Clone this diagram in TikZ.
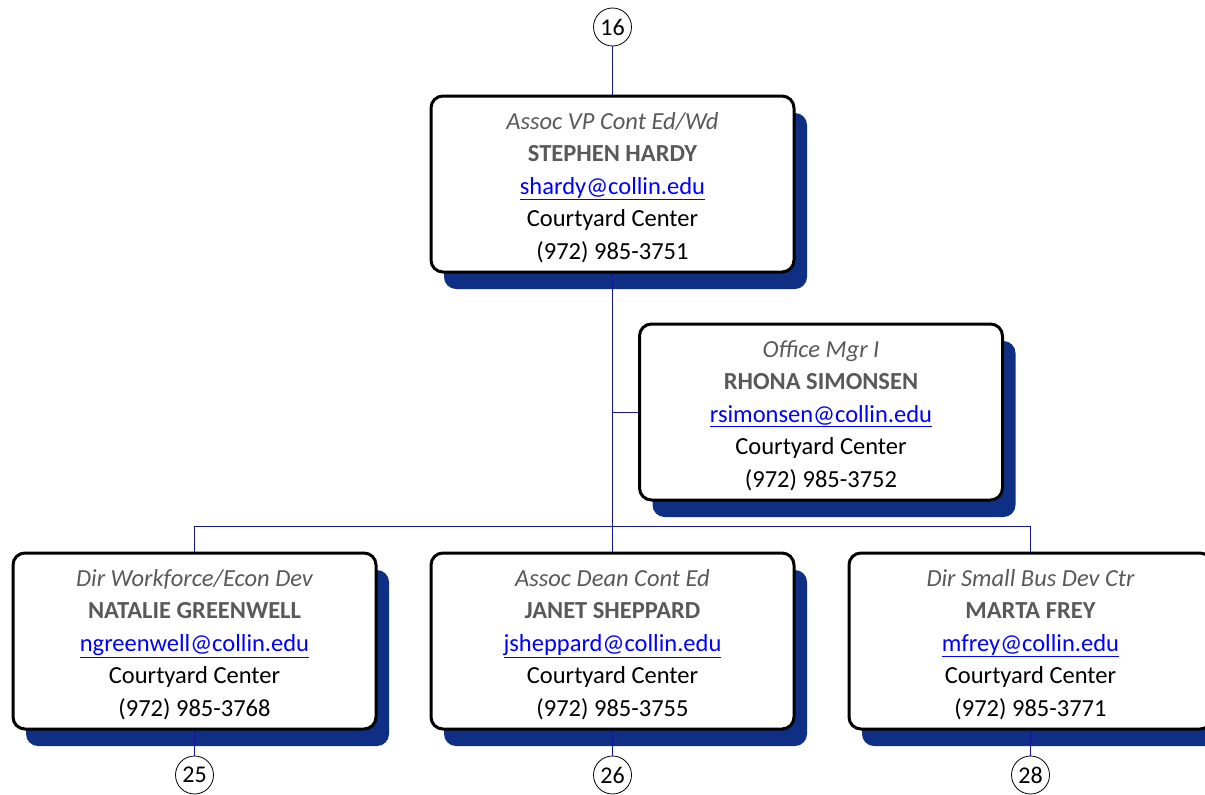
\documentclass[tikz,border=0pt]{standalone}
\usepackage{fontspec}
\setmainfont{Carlito}
\usetikzlibrary{shadows}
\definecolor{navyshadow}{RGB}{14,47,132}
\definecolor{linkblue}{RGB}{0,0,255}
\definecolor{titlegray}{RGB}{89,89,89}
\definecolor{connblue}{RGB}{20,20,150}
\newcommand{\ptext}[4]{{\color{titlegray}\itshape #1}\\{\color{titlegray}\bfseries #2}\\{\color{linkblue}\underline{#3}}\\Courtyard Center\\#4}
\tikzset{
  personbox/.style={draw=black, line width=3pt, rounded corners=12pt, fill=white,
    minimum width=363pt, minimum height=176pt, inner sep=0pt,
    general shadow={fill=navyshadow, draw=none, shadow xshift=13pt, shadow yshift=-17pt}},
  persontext/.style={align=center, inner sep=0pt, font=\fontsize{24.5}{32.5}\selectfont},
  conn/.style={draw=connblue, line width=1pt},
  pagecircle/.style={circle, draw=black, line width=0.8pt, minimum size=38pt, inner sep=0pt,
    fill=white, font=\fontsize{24}{24}\selectfont}
}
\begin{document}
\begin{tikzpicture}[x=1pt,y=-1pt]
\useasboundingbox (0,0) rectangle (1205,795);
\node[personbox] (hardy) at (612.5,184) {};
\node[persontext] (hardy-t) at (612.5,187.5) {\ptext{Assoc VP Cont Ed/Wd}{STEPHEN HARDY}{shardy@collin.edu}{(972) 985-3751}};
\node[personbox] (simonsen) at (821,412) {};
\node[persontext] (simonsen-t) at (821,415.5) {\ptext{Office Mgr I}{RHONA SIMONSEN}{rsimonsen@collin.edu}{(972) 985-3752}};
\node[personbox] (greenwell) at (194.5,641) {};
\node[persontext] (greenwell-t) at (194.5,644.5) {\ptext{Dir Workforce/Econ Dev}{NATALIE GREENWELL}{ngreenwell@collin.edu}{(972) 985-3768}};
\node[personbox] (sheppard) at (612.5,641) {};
\node[persontext] (sheppard-t) at (612.5,644.5) {\ptext{Assoc Dean Cont Ed}{JANET SHEPPARD}{jsheppard@collin.edu}{(972) 985-3755}};
\node[personbox] (frey) at (1030.5,641) {};
\node[persontext] (frey-t) at (1030.5,644.5) {\ptext{Dir Small Bus Dev Ctr}{MARTA FREY}{mfrey@collin.edu}{(972) 985-3771}};
\node[pagecircle] (c16) at (612.5,27) {16};
\node[pagecircle] (c25) at (194.5,775) {25};
\node[pagecircle] (c26) at (612.5,775) {26};
\node[pagecircle] (c28) at (1030.5,775) {28};
\coordinate (bus) at (612.5,526);
\draw[conn] (c16) -- (hardy.north);
\draw[conn] (hardy.south) -- (sheppard.north);
\draw[conn] (hardy.south |- simonsen.west) -- (simonsen.west);
\draw[conn] (greenwell.north) -- (greenwell.north |- bus) -- (frey.north |- bus) -- (frey.north);
\draw[conn] (greenwell.south) -- (c25);
\draw[conn] (sheppard.south) -- (c26);
\draw[conn] (frey.south) -- (c28);
\end{tikzpicture}
\end{document}
